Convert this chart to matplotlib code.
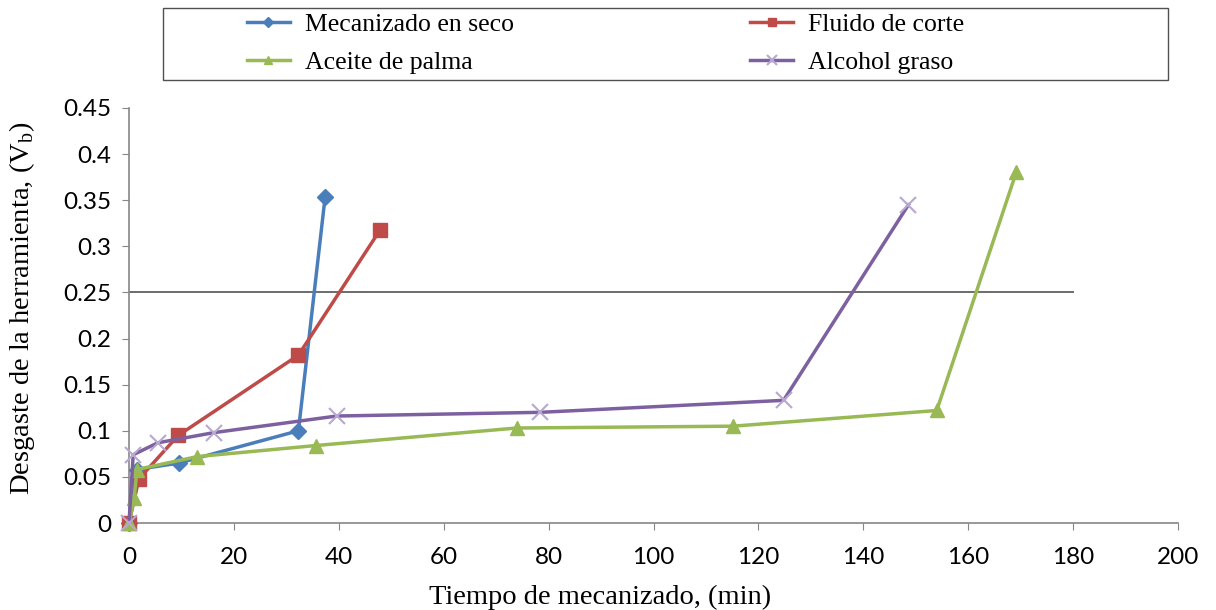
import matplotlib
matplotlib.use("Agg")
import matplotlib.pyplot as plt
from matplotlib.patches import Rectangle

# tiempo (min) / desgaste Vb
seco_t = [0, 1.5, 9.5, 32.3, 37.4]
seco_vb = [0, 0.058, 0.065, 0.100, 0.354]

fluido_t = [0, 1.9, 9.4, 32.3, 47.9]
fluido_vb = [0, 0.048, 0.095, 0.182, 0.318]

palma_t = [0, 1.0, 1.5, 13.0, 35.6, 73.9, 115.2, 154.0, 169.2]
palma_vb = [0, 0.027, 0.058, 0.072, 0.084, 0.103, 0.105, 0.122, 0.381]

alcohol_t = [0, 0.8, 5.5, 16.2, 39.6, 78.4, 124.8, 148.6]
alcohol_vb = [0, 0.074, 0.087, 0.098, 0.116, 0.120, 0.133, 0.345]

limite_vb = 0.25
limite_t = [0, 180]

serif = "Liberation Serif"
sans = "Lato"

fig = plt.figure(figsize=(12.16, 6.10), dpi=100)
ax = fig.add_axes([129 / 1216, 1 - 523 / 610, (1178 - 129) / 1216, (523 - 108) / 610])

ax.plot(limite_t, [limite_vb, limite_vb], color="#6b6b6b", lw=1.4, zorder=1)

ax.plot(seco_t, seco_vb, color="#4A7EBB", lw=2.5, marker="D", ms=8,
        label="Mecanizado en seco", zorder=3, clip_on=False)
ax.plot(fluido_t, fluido_vb, color="#BE4B48", lw=2.5, marker="s", ms=10,
        label="Fluido de corte", zorder=3, clip_on=False)
ax.plot(palma_t, palma_vb, color="#98B954", lw=2.5, marker="^", ms=10,
        label="Aceite de palma", zorder=3, clip_on=False)
ax.plot(alcohol_t, alcohol_vb, color="#7D60A0", lw=2.5, marker="x", ms=11,
        mec="#B7A8CF", mew=1.5, label="Alcohol graso", zorder=3, clip_on=False)

ax.set_xlim(0, 200)
ax.set_ylim(0, 0.45)
ax.set_xticks(range(0, 201, 20))
ax.set_yticks([0, 0.05, 0.1, 0.15, 0.2, 0.25, 0.3, 0.35, 0.4, 0.45])
ax.set_yticklabels(["0", "0.05", "0.1", "0.15", "0.2", "0.25", "0.3", "0.35", "0.4", "0.45"])
ax.tick_params(direction="out", length=5, color="#868686", labelsize=17.5)
ax.tick_params(axis="x", pad=12)
ax.tick_params(axis="y", pad=8)
for lab in ax.get_xticklabels() + ax.get_yticklabels():
    lab.set_fontfamily(sans)

for s in ["top", "right"]:
    ax.spines[s].set_visible(False)
for s in ["left", "bottom"]:
    ax.spines[s].set_color("#868686")
    ax.spines[s].set_linewidth(1.2)

ax.set_xlabel("Tiempo de mecanizado, (min)", fontfamily=serif, fontsize=20.5, va="center")
ax.xaxis.set_label_coords((600 - 129) / 1049, -(597 - 523) / 415)
ax.set_ylabel(r"Desgaste de la herramienta, (V$_\mathregular{b}$)",
              fontfamily=serif, fontsize=20.5, va="center")
ax.yaxis.set_label_coords((22 - 129) / 1049, (523 - 308) / 415)

# marco de la leyenda
fig.add_artist(Rectangle((163 / 1216, 1 - 80 / 610), (1168 - 163) / 1216, 72 / 610,
                         transform=fig.transFigure, fill=False,
                         edgecolor="#505050", lw=1.0))

handles, labels = ax.get_legend_handles_labels()
order = [0, 2, 1, 3]
leg = fig.legend([handles[i] for i in order], [labels[i] for i in order],
                 loc="upper left", ncol=2, frameon=False,
                 bbox_to_anchor=(247 / 1216, 1 - 13 / 610),
                 prop={"family": serif, "size": 18.5},
                 handlelength=1.67, handletextpad=0.58, columnspacing=9.2,
                 markerscale=0.6, borderaxespad=0, borderpad=0, labelspacing=0.6)

fig.savefig("out.png", dpi=100)
